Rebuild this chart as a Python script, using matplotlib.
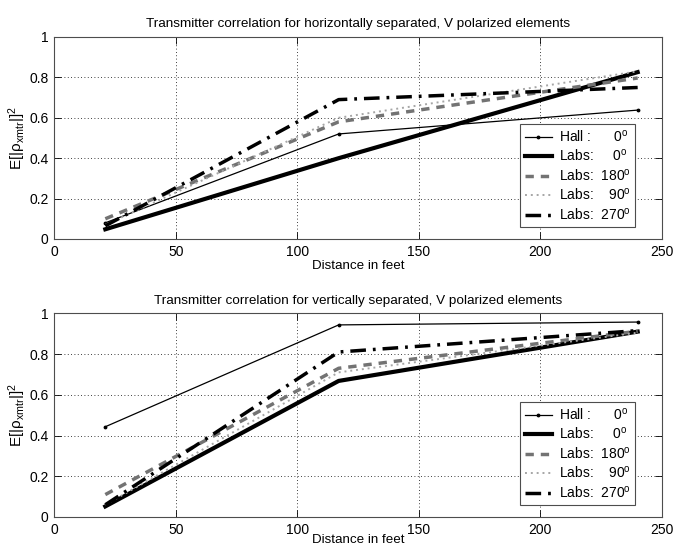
import matplotlib
matplotlib.use("Agg")
import matplotlib.pyplot as plt

plt.rcParams['font.family'] = ['Liberation Sans', 'DejaVu Sans']
plt.rcParams['mathtext.fontset'] = 'custom'
plt.rcParams['mathtext.rm'] = 'Liberation Sans'
plt.rcParams['mathtext.it'] = 'Liberation Sans'

distance = [21, 117, 240]

labels = ["Hall :      0$^{o}$", "Labs:     0$^{o}$", "Labs:  180$^{o}$",
          "Labs:    90$^{o}$", "Labs:  270$^{o}$"]

horiz_hall = [0.08, 0.52, 0.638]
horiz_labs0 = [0.048, 0.40, 0.826]
horiz_labs180 = [0.10, 0.58, 0.797]
horiz_labs90 = [0.07, 0.60, 0.83]
horiz_labs270 = [0.065, 0.69, 0.75]

vert_hall = [0.443, 0.943, 0.957]
vert_labs0 = [0.052, 0.668, 0.91]
vert_labs180 = [0.11, 0.73, 0.912]
vert_labs90 = [0.06, 0.71, 0.905]
vert_labs270 = [0.06, 0.81, 0.915]

titles = ["Transmitter correlation for horizontally separated, V polarized elements",
          "Transmitter correlation for vertically separated, V polarized elements"]

styles = [
    dict(color='k', lw=0.9, ls='-', marker='.', markersize=3.5),
    dict(color='k', lw=3.0, ls='-'),
    dict(color='0.45', lw=2.5, ls=(0, (2.4, 2.0))),
    dict(color='0.65', lw=1.4, ls=(0, (1, 2))),
    dict(color='k', lw=2.5, ls=(0, (4.5, 2.0, 0.8, 2.0))),
]

fig = plt.figure(figsize=(6.75, 5.48), dpi=100)
ax_top = fig.add_axes([0.0804, 0.5639, 0.9003, 0.3686])
ax_bot = fig.add_axes([0.0804, 0.0566, 0.9003, 0.3717])

datasets = [
    [horiz_hall, horiz_labs0, horiz_labs180, horiz_labs90, horiz_labs270],
    [vert_hall, vert_labs0, vert_labs180, vert_labs90, vert_labs270],
]

for ax, series, title, xpad in zip([ax_top, ax_bot], datasets, titles, [1, -1.5]):
    for vals, st, lab in zip(series, styles, labels):
        ax.plot(distance, vals, label=lab, **st)
    ax.set_xlim(0, 250)
    ax.set_ylim(0, 1)
    ax.set_xticks([0, 50, 100, 150, 200, 250])
    ax.set_yticks([0, 0.2, 0.4, 0.6, 0.8, 1])
    ax.set_yticklabels(['0', '0.2', '0.4', '0.6', '0.8', '1'])
    ax.grid(True, color='k', ls=(0, (1, 3)), lw=0.6)
    ax.tick_params(direction='in', top=True, right=True, labelsize=10, length=5,
                   width=0.6, pad=4)
    for sp in ax.spines.values():
        sp.set_linewidth(0.8)
        sp.set_color('0.3')
    ax.set_title(title, fontsize=9.7, pad=7)
    ax.set_xlabel("Distance in feet", fontsize=9.6, labelpad=xpad)
    ax.set_ylabel(r"E[|$\rho_{xmtr}$|]$^2$", fontsize=11, labelpad=1)
    leg = ax.legend(loc='lower left', bbox_to_anchor=(0.767, 0.061, 0.189, 0.495),
                    mode='expand', fontsize=10, handlelength=2.0, handletextpad=0.5,
                    borderaxespad=0, fancybox=False, framealpha=1,
                    labelspacing=0.25, borderpad=0.3)
    leg.get_frame().set_edgecolor('0.3')
    leg.get_frame().set_linewidth(0.8)

fig.savefig("out.png", dpi=100)
